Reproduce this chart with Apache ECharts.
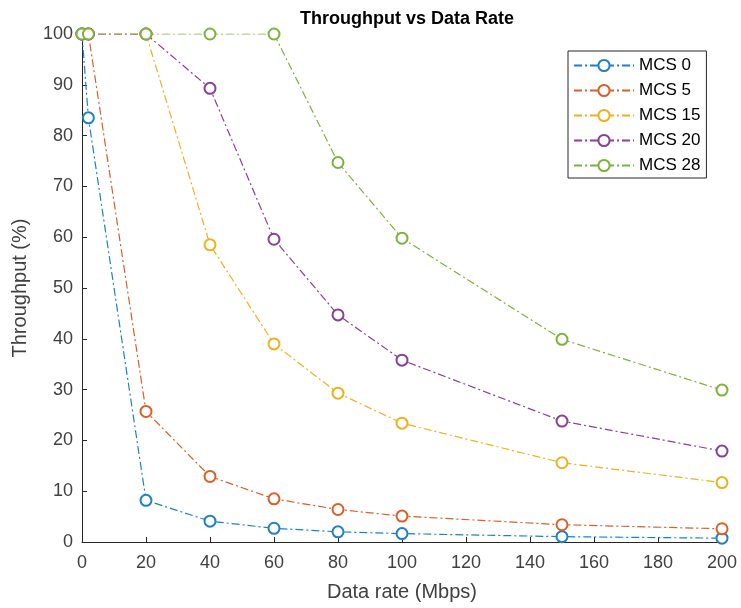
<!DOCTYPE html>
<html>
<head>
<meta charset="utf-8">
<script src="https://cdn.jsdelivr.net/npm/echarts@6/dist/echarts.min.js"></script>
<style>
  html, body { margin: 0; padding: 0; background: #fff; }
  #chart { width: 741px; height: 608px; }
</style>
</head>
<body>
<div id="chart"></div>
<script>
// Offered data rate (Mbps)
const rates = [0, 2, 20, 40, 60, 80, 100, 150, 200];
// Throughput (%) per modulation and coding scheme
const mcs0  = [100, 83.5, 8.2, 4.1, 2.7, 2.0, 1.65, 1.05, 0.75];
const mcs5  = [100, 100, 25.7, 12.9, 8.5, 6.4, 5.1, 3.4, 2.6];
const mcs15 = [100, 100, 100, 58.5, 39.0, 29.3, 23.4, 15.6, 11.7];
const mcs20 = [100, 100, 100, 89.3, 59.6, 44.7, 35.8, 23.8, 17.9];
const mcs28 = [100, 100, 100, 100, 100, 74.7, 59.8, 39.9, 29.9];

const seriesNames = ['MCS 0', 'MCS 5', 'MCS 15', 'MCS 20', 'MCS 28'];
const seriesValues = [mcs0, mcs5, mcs15, mcs20, mcs28];
const palette = ['#1F80C8', '#DC5E27', '#EDB120', '#8A3F99', '#7DB23A'];

const font = 'Liberation Sans, Arial, Helvetica, sans-serif';
const axisColor = '#262626';
const labelColor = '#404040';

const chart = echarts.init(document.getElementById('chart'), null, { renderer: 'canvas' });

const series = seriesNames.map((name, i) => ({
  name,
  type: 'line',
  data: rates.map((r, k) => [r, seriesValues[i][k]]),
  symbol: 'emptyCircle',
  symbolSize: 11,
  showAllSymbol: true,
  animation: false,
  lineStyle: { color: palette[i], width: 1.2, type: [8, 3, 2, 3] },
  itemStyle: { color: palette[i], borderColor: palette[i], borderWidth: 1 },
  emphasis: { disabled: true }
}));

const axisCommon = {
  type: 'value',
  nameLocation: 'middle',
  nameTextStyle: { fontFamily: font, fontSize: 20, color: labelColor },
  axisLine: { show: true, lineStyle: { color: axisColor, width: 1 } },
  axisTick: { show: true, inside: true, length: 5, lineStyle: { color: axisColor } },
  axisLabel: { fontFamily: font, fontSize: 18, color: labelColor },
  splitLine: { show: false }
};

chart.setOption({
  backgroundColor: '#fff',
  animation: false,
  title: {
    text: 'Throughput vs Data Rate',
    left: 402,
    top: 5,
    textAlign: 'center',
    textStyle: { fontFamily: font, fontSize: 18, fontWeight: 'bold', color: '#000' }
  },
  grid: { left: 82, right: 19, top: 34, bottom: 66, containLabel: false },
  legend: {
    orient: 'vertical',
    left: 568,
    top: 51,
    padding: [6, 6, 4, 5],
    itemWidth: 60,
    itemHeight: 14,
    itemGap: 8,
    borderColor: '#262626',
    borderWidth: 1,
    backgroundColor: '#fff',
    textStyle: { fontFamily: font, fontSize: 17, color: '#000' },
    data: seriesNames
  },
  xAxis: Object.assign({}, axisCommon, {
    name: 'Data rate (Mbps)',
    nameGap: 40,
    min: 0, max: 200, interval: 20,
    axisLabel: Object.assign({}, axisCommon.axisLabel, { margin: 12 })
  }),
  yAxis: Object.assign({}, axisCommon, {
    name: 'Throughput (%)',
    nameGap: 52,
    min: 0, max: 100, interval: 10,
    axisLabel: Object.assign({}, axisCommon.axisLabel, { margin: 9 })
  }),
  series
});
</script>
</body>
</html>
